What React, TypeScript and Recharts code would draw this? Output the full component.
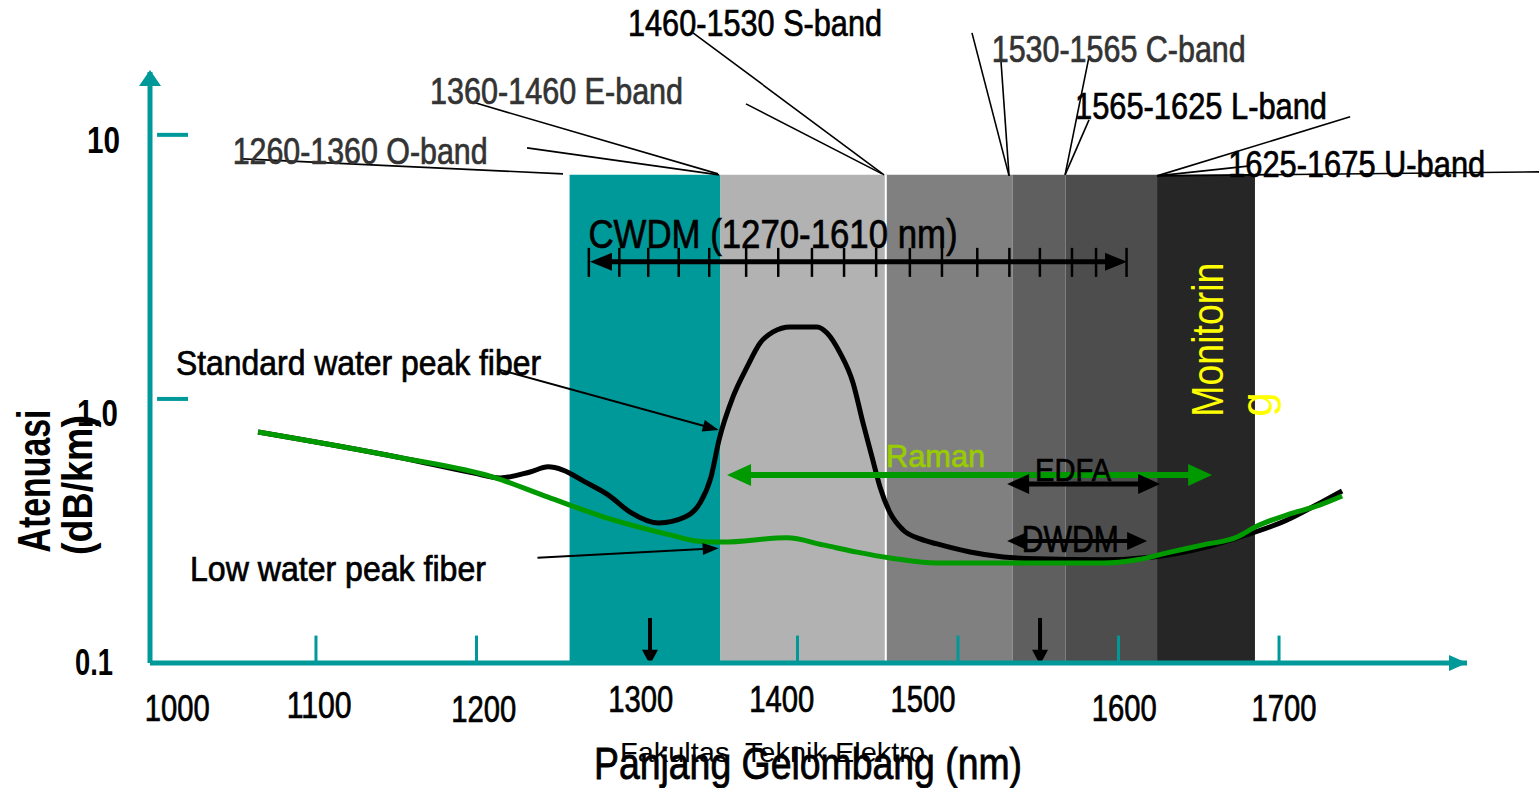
import React from 'react';
import { ComposedChart, Line, XAxis, YAxis, ReferenceArea, ReferenceLine, ReferenceDot } from 'recharts';

const NARROW = "'Liberation Sans Narrow', 'Arial Narrow', 'Liberation Sans', Arial, sans-serif";
const SANS = "'Liberation Sans', Arial, sans-serif";
const TEAL = '#009999';

// axis domains (nm, dB/km)
const X_MIN = 996.6;
const X_MAX = 1817.1;
const Y_MIN = 0.1;
const Y_MAX = 17.3;

// ---- bands ----
const bandNames = ['O-band', 'E-band', 'S-band', 'C-band', 'L-band', 'U-band'];
const bandStartNm = [1258, 1352, 1455, 1534, 1567, 1624];
const bandEndNm = [1352, 1455, 1534, 1567, 1624, 1685];
const bandTopDb = 7.06;
const bandColors = ['#009999', '#b2b2b2', '#808080', '#5f5f5f', '#4d4d4d', '#262626'];

// ---- attenuation curves ----
const standardNm = [1063.9, 1150.5, 1198.5, 1214.7, 1233.4, 1244.6, 1253.9, 1267.6, 1282.0, 1295.7, 1313.7, 1329.9, 1339.3, 1346.1, 1351.1, 1359.8, 1368.6, 1376.7, 1384.8, 1395.4, 1412.2, 1418.4, 1426.5, 1434.6, 1440.8, 1446.4, 1451.4, 1457.7, 1465.8, 1476.4, 1487.0, 1507.5, 1528.1, 1549.2, 1590.4, 1621.5, 1652.7, 1673.9, 1705.0, 1725.6, 1739.3];
const standardDb = [0.750, 0.603, 0.524, 0.502, 0.529, 0.553, 0.538, 0.485, 0.433, 0.373, 0.339, 0.357, 0.404, 0.506, 0.699, 1.018, 1.322, 1.630, 1.794, 1.874, 1.874, 1.778, 1.494, 1.150, 0.811, 0.603, 0.464, 0.370, 0.319, 0.295, 0.2824, 0.2633, 0.252, 0.248, 0.246, 0.252, 0.273, 0.298, 0.348, 0.404, 0.448];
const lowWaterNm = [1063.9, 1150.5, 1210.3, 1244.6, 1279.5, 1321.2, 1336.8, 1353.0, 1393.5, 1415.9, 1437.1, 1457.7, 1486.9, 1528.1, 1590.4, 1611.6, 1632.1, 1652.7, 1673.9, 1686.3, 1705.0, 1725.6, 1739.3];
const lowWaterDb = [0.750, 0.603, 0.506, 0.425, 0.357, 0.305, 0.290, 0.287, 0.298, 0.280, 0.263, 0.250, 0.239, 0.239, 0.239, 0.246, 0.263, 0.280, 0.300, 0.330, 0.364, 0.397, 0.429];

// ---- axis ticks ----
const xTickMarksNm = [1100, 1200, 1300, 1400, 1500, 1600, 1700];
const xTickLabels = ['1000', '1100', '1200', '1300', '1400', '1500', '1600', '1700'];
const xTickLabelNm = [1013.6, 1102.0, 1204.6, 1302.3, 1390.2, 1478.2, 1603.5, 1703.1];
const yTickValues = [0.1, 1, 10];
const yTickLabels = ['0.1', '1.0', '10'];
const yDashValues = [1, 10];

// ---- CWDM channel ticks ----
const cwdmTicksNm = [1270, 1289, 1307, 1326, 1345, 1368, 1388, 1409, 1429, 1449, 1470, 1490, 1512, 1532, 1551, 1571, 1586, 1605];
const cwdmTickLowDb = 2.898;
const cwdmTickHighDb = 3.733;

// ---- leader lines (band label -> band edge) ----
const leaderFromNm = [1054.5, 1231.5, 1199.1, 1334.9, 1367.9, 1508.7, 1526.8, 1581.6, 1581.6, 1744.3, 1682.0, 1862.0];
const leaderFromDb = [8.11, 8.93, 13.22, 24.34, 13.10, 24.34, 18.90, 19.75, 11.40, 11.70, 7.63, 7.241];
const leaderToNm = [1253.9, 1351.1, 1350.5, 1453.9, 1452.7, 1531.8, 1531.8, 1566.7, 1566.7, 1624.0, 1624.0, 1624.0];
const leaderToDb = [7.117, 7.056, 7.117, 7.056, 7.117, 6.994, 6.994, 7.056, 7.056, 6.994, 6.994, 6.994];

// ---- arrows: CWDM, Raman, EDFA, DWDM, std pointer, low pointer, 1310 marker, 1550 marker ----
const arrowFromNm = [1270.7, 1356.1, 1530.6, 1530.6, 1214.7, 1238.0, 1308.1, 1551.1];
const arrowFromDb = [3.304, 0.5155, 0.4764, 0.290, 1.288, 0.2506, 0.1481, 0.1481];
const arrowToNm = [1605.3, 1658.3, 1625.9, 1617.8, 1350.9, 1350.9, 1308.1, 1551.1];
const arrowToDb = [3.304, 0.5155, 0.4764, 0.290, 0.763, 0.272, 0.0985, 0.0985];
const arrowStyles = [
  { color: '#000000', width: 5, head: 22, half: 9, start: true, end: true },
  { color: '#009900', width: 6, head: 24, half: 11, start: true, end: true },
  { color: '#000000', width: 5, head: 22, half: 10, start: true, end: true },
  { color: '#000000', width: 4, head: 20, half: 9, start: true, end: true },
  { color: '#000000', width: 2, head: 16, half: 6, start: false, end: true },
  { color: '#000000', width: 2, head: 16, half: 6, start: false, end: true },
  { color: '#000000', width: 4, head: 15, half: 8, start: false, end: true },
  { color: '#000000', width: 4, head: 15, half: 8, start: false, end: true },
];

// ---- text notes ----
const noteTexts = ['1260-1360 O-band', '1360-1460 E-band', '1460-1530 S-band', '1530-1565 C-band', '1565-1625 L-band', '1625-1675 U-band', 'CWDM (1270-1610 nm)', 'Standard water peak fiber', 'Low water peak fiber', 'Raman', 'EDFA', 'DWDM', 'Monitorin', 'g'];
const noteNm = [1048.1, 1171.1, 1294.4, 1521.0, 1572.9, 1668.3, 1269.8, 1012.8, 1021.5, 1455.2, 1548.0, 1539.7, 1664.9, 1695.5];
const noteDb = [7.767, 13.10, 23.71, 18.95, 11.50, 6.916, 3.733, 1.233, 0.2044, 0.5526, 0.489, 0.2633, 0.857, 0.857];
const noteStyles: any[] = [
  { size: 36, len: 255, color: '#333333' },
  { size: 36, len: 253, color: '#333333' },
  { size: 36, len: 254, color: '#000000' },
  { size: 36, len: 254, color: '#333333' },
  { size: 36, len: 252, color: '#000000' },
  { size: 36, len: 257, color: '#000000' },
  { size: 40, len: 369, color: '#000000' },
  { size: 35, len: 365, color: '#000000' },
  { size: 35, len: 296, color: '#000000' },
  { size: 32, len: 99, color: '#99cc00' },
  { size: 32, len: 76, color: '#000000' },
  { size: 37, len: 97, color: '#000000' },
  { size: 44, len: 154, color: '#ffff00', rotate: true, family: SANS, plain: true },
  { size: 44, color: '#ffff00', rotate: true, family: SANS, plain: true },
];

// per-label pixel offsets for axis tick labels
const xLabelDy = [58, 55, 59, 49, 49, 49, 58, 58];
const yLabelDy = [12, 27, 18];
const yLabelDx = [-7, -2, 0];
const yLabelLen = [38, 41, 33];

const standardData = standardNm.map((nm, i) => ({ nm, db: standardDb[i] }));
const lowWaterData = lowWaterNm.map((nm, i) => ({ nm, db: lowWaterDb[i] }));

function makeArrow(o: any) {
  return (p: any) => {
    const x1 = Number(p.x1), y1 = Number(p.y1), x2 = Number(p.x2), y2 = Number(p.y2);
    const dx = x2 - x1, dy = y2 - y1;
    const len = Math.hypot(dx, dy) || 1;
    const ux = dx / len, uy = dy / len;
    const nx = -uy, ny = ux;
    const head = (tx: number, ty: number, dx0: number, dy0: number) => {
      const bx = tx - dx0 * o.head, by = ty - dy0 * o.head;
      return `${tx},${ty} ${bx + nx * o.half},${by + ny * o.half} ${bx - nx * o.half},${by - ny * o.half}`;
    };
    const sx = o.start ? x1 + ux * o.head * 0.7 : x1;
    const sy = o.start ? y1 + uy * o.head * 0.7 : y1;
    const ex = o.end ? x2 - ux * o.head * 0.7 : x2;
    const ey = o.end ? y2 - uy * o.head * 0.7 : y2;
    return (
      <g>
        <line x1={sx} y1={sy} x2={ex} y2={ey} stroke={o.color} strokeWidth={o.width} />
        {o.start ? <polygon points={head(x1, y1, -ux, -uy)} fill={o.color} /> : null}
        {o.end ? <polygon points={head(x2, y2, ux, uy)} fill={o.color} /> : null}
      </g>
    );
  };
}

function makeNote(text: string, s: any) {
  return (p: any) => {
    const cx = Number(p.cx), cy = Number(p.cy);
    return (
      <text
        x={cx}
        y={cy}
        fill={s.color}
        stroke={s.plain ? 'none' : s.color}
        strokeWidth={s.plain ? 0 : 0.7}
        fontSize={s.size}
        fontFamily={s.family || NARROW}
        fontWeight={s.weight || 'normal'}
        textLength={s.len}
        lengthAdjust={s.len ? 'spacingAndGlyphs' : undefined}
        transform={s.rotate ? `rotate(-90 ${cx} ${cy})` : undefined}
      >
        {text}
      </text>
    );
  };
}

const XTick = (props: any) => {
  const i = xTickLabelNm.indexOf(props.payload.value);
  if (i < 0) return null;
  return (
    <text x={props.x} y={Number(props.y) + xLabelDy[i]} textAnchor="middle" fontFamily={NARROW} fontSize={37} fill="#000" stroke="#000" strokeWidth={0.7} textLength={65} lengthAdjust="spacingAndGlyphs">
      {xTickLabels[i]}
    </text>
  );
};

const YTick = (props: any) => {
  const i = yTickValues.indexOf(props.payload.value);
  if (i < 0) return null;
  return (
    <text x={Number(props.x) + yLabelDx[i]} y={Number(props.y) + yLabelDy[i]} textAnchor="end" fontFamily={NARROW} fontWeight="bold" fontSize={36} fill="#000" textLength={yLabelLen[i]} lengthAdjust="spacingAndGlyphs">
      {yTickLabels[i]}
    </text>
  );
};

const YTitle = (props: any) => {
  const vb = props.viewBox || { x: 0, y: 72 };
  const ax = vb.x + 50, ay = vb.y + 409;
  const bx = vb.x + 92, by = vb.y + 413;
  return (
    <g>
      <text x={ax} y={ay} textAnchor="middle" transform={`rotate(-90 ${ax} ${ay})`} fontFamily={NARROW} fontWeight="bold" fontSize={46} fill="#000" textLength={143} lengthAdjust="spacingAndGlyphs">Atenuasi</text>
      <text x={bx} y={by} textAnchor="middle" transform={`rotate(-90 ${bx} ${by})`} fontFamily={NARROW} fontWeight="bold" fontSize={43} fill="#000" textLength={140} lengthAdjust="spacingAndGlyphs">(dB/km)</text>
    </g>
  );
};

const XTitle = (props: any) => {
  const vb = props.viewBox || { x: 150, y: 663 };
  return (
    <g>
      <text x={vb.x + 470} y={vb.y + 99} fontFamily={SANS} fontSize={28} fill="#000" textLength={305} lengthAdjust="spacingAndGlyphs" style={{ whiteSpace: 'pre' }}>Fakultas  Teknik Elektro</text>
      <text x={vb.x + 658} y={vb.y + 116} textAnchor="middle" fontFamily={NARROW} fontSize={45} fill="#000" stroke="#000" strokeWidth={0.8} textLength={428} lengthAdjust="spacingAndGlyphs">Panjang Gelombang (nm)</text>
    </g>
  );
};

const upArrowHead = (p: any) => {
  const cx = Number(p.cx), cy = Number(p.cy);
  return <polygon points={`${cx},${cy - 2} ${cx - 11},${cy + 14} ${cx + 11},${cy + 14}`} fill={TEAL} />;
};
const rightArrowHead = (p: any) => {
  const cx = Number(p.cx), cy = Number(p.cy);
  return <polygon points={`${cx},${cy} ${cx - 18},${cy - 8} ${cx - 18},${cy + 8}`} fill={TEAL} />;
};

export default function App() {
  return (
    <div style={{ position: 'absolute', left: 0, top: 0, width: 1539, height: 788, background: '#ffffff' }}>
      <ComposedChart width={1539} height={788} margin={{ top: 72, right: 72, bottom: 0, left: 0 }}>
        <XAxis
          type="number"
          dataKey="nm"
          domain={[X_MIN, X_MAX]}
          allowDataOverflow
          ticks={xTickLabelNm}
          interval={0}
          tick={<XTick />}
          tickLine={false}
          tickSize={0}
          tickMargin={0}
          height={125}
          axisLine={{ stroke: TEAL, strokeWidth: 5 }}
          label={{ content: XTitle }}
        />
        <YAxis
          type="number"
          dataKey="db"
          scale="log"
          domain={[Y_MIN, Y_MAX]}
          allowDataOverflow
          ticks={yTickValues}
          interval={0}
          tick={<YTick />}
          tickLine={false}
          tickSize={0}
          tickMargin={30}
          width={150}
          axisLine={{ stroke: TEAL, strokeWidth: 5 }}
          label={{ content: YTitle }}
        />

        {bandNames.map((b, i) => (
          <ReferenceArea key={b} x1={bandStartNm[i]} x2={bandEndNm[i]} y1={Y_MIN} y2={bandTopDb} fill={bandColors[i]} fillOpacity={1} stroke="none" ifOverflow="visible" />
        ))}
        <ReferenceLine segment={[{ x: bandStartNm[2], y: Y_MIN }, { x: bandStartNm[2], y: bandTopDb }]} stroke="#ffffff" strokeWidth={2} ifOverflow="visible" />

        {xTickMarksNm.map((v) => (
          <ReferenceLine key={'xt' + v} segment={[{ x: v, y: Y_MIN }, { x: v, y: 0.127 }]} stroke={TEAL} strokeWidth={3} ifOverflow="visible" />
        ))}
        {yDashValues.map((v) => (
          <ReferenceLine key={'yd' + v} segment={[{ x: 1001.0, y: v }, { x: 1020.3, y: v }]} stroke={TEAL} strokeWidth={4} ifOverflow="visible" />
        ))}

        <Line data={standardData} dataKey="db" type="monotone" stroke="#000000" strokeWidth={5} dot={false} activeDot={false} isAnimationActive={false} />
        <Line data={lowWaterData} dataKey="db" type="monotone" stroke="#009900" strokeWidth={5} dot={false} activeDot={false} isAnimationActive={false} />

        {leaderFromNm.map((v, i) => (
          <ReferenceLine key={'ld' + i} segment={[{ x: v, y: leaderFromDb[i] }, { x: leaderToNm[i], y: leaderToDb[i] }]} stroke="#000000" strokeWidth={1.6} ifOverflow="visible" />
        ))}

        {cwdmTicksNm.map((v) => (
          <ReferenceLine key={'cw' + v} segment={[{ x: v, y: cwdmTickLowDb }, { x: v, y: cwdmTickHighDb }]} stroke="#000000" strokeWidth={2.5} ifOverflow="visible" />
        ))}

        {arrowFromNm.map((v, i) => (
          <ReferenceLine key={'ar' + i} segment={[{ x: v, y: arrowFromDb[i] }, { x: arrowToNm[i], y: arrowToDb[i] }]} shape={makeArrow(arrowStyles[i])} ifOverflow="visible" />
        ))}

        {noteTexts.map((t, i) => (
          <ReferenceDot key={'nt' + i} x={noteNm[i]} y={noteDb[i]} r={0} shape={makeNote(t, noteStyles[i])} ifOverflow="visible" />
        ))}

        <ReferenceDot x={X_MIN} y={Y_MAX} r={0} shape={upArrowHead} ifOverflow="visible" />
        <ReferenceDot x={X_MAX} y={Y_MIN} r={0} shape={rightArrowHead} ifOverflow="visible" />
      </ComposedChart>
    </div>
  );
}
